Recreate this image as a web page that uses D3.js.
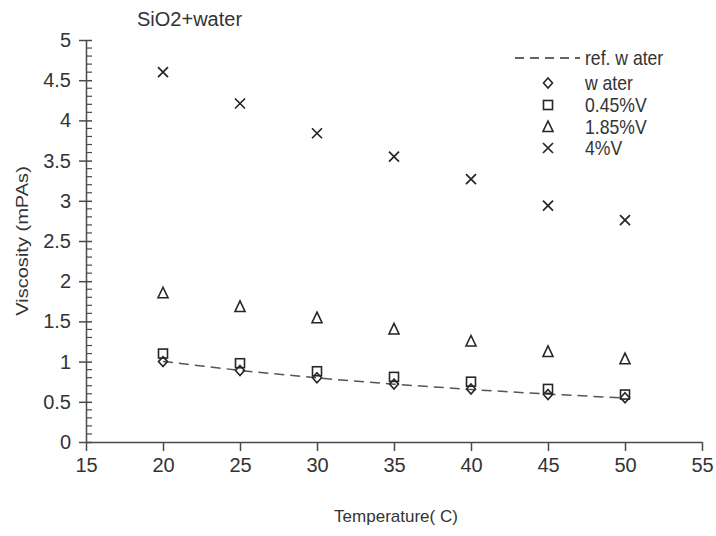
<!DOCTYPE html>
<html>
<head>
<meta charset="utf-8">
<script src="https://cdn.jsdelivr.net/npm/d3@7"></script>
<style>
  html, body { margin: 0; padding: 0; background: #fff; }
  svg { display: block; font-family: "Liberation Sans", Arial, sans-serif; }
</style>
</head>
<body>
<svg id="chart" width="716" height="536"></svg>
<script>
// ---- data ----
const temperatures = [20, 25, 30, 35, 40, 45, 50];
const refWater   = [1.002, 0.890, 0.797, 0.719, 0.653, 0.596, 0.547];
const water      = [1.00, 0.89, 0.80, 0.72, 0.66, 0.59, 0.55];
const v045       = [1.10, 0.98, 0.88, 0.81, 0.75, 0.66, 0.59];
const v185       = [1.85, 1.68, 1.54, 1.40, 1.25, 1.12, 1.03];
const v4         = [4.60, 4.21, 3.84, 3.55, 3.27, 2.94, 2.76];
const xTicks = [15, 20, 25, 30, 35, 40, 45, 50, 55];
const yTicks = [0, 0.5, 1, 1.5, 2, 2.5, 3, 3.5, 4, 4.5, 5];
const seriesNames = ["ref. w ater", "w ater", "0.45%V", "1.85%V", "4%V"];
const titleText = "SiO2+water";
const xLabel = "Temperature( C)";
const yLabel = "Viscosity (mPAs)";

// ---- layout ----
const svg = d3.select("#chart");
const x = d3.scaleLinear().domain([15, 55]).range([86, 702]);
const y = d3.scaleLinear().domain([0, 5]).range([442, 40]);
const axisColor = "#4a4a4a";
const markColor = "#262626";

// title
svg.append("text").attr("x", 137).attr("y", 26)
  .attr("font-size", 20).attr("fill", "#333").text(titleText);

// x axis
const gx = svg.append("g").attr("transform", `translate(0,${y(0)})`)
  .call(d3.axisBottom(x).tickValues(xTicks).tickSize(9).tickSizeOuter(0).tickPadding(7).tickFormat(d3.format("d")));
gx.select(".domain").attr("stroke", axisColor).attr("stroke-width", 1.5);
gx.selectAll(".tick line").attr("stroke", axisColor).attr("stroke-width", 1.5);
gx.selectAll(".tick text").attr("font-size", 20).attr("fill", "#333")
  .attr("font-family", "Liberation Sans, Arial, sans-serif");

// y axis minor ticks
const minor = d3.range(0, 50).map(i => i / 10).filter(v => Math.abs(v * 2 - Math.round(v * 2)) > 1e-6);
svg.append("g").selectAll("line").data(minor).join("line")
  .attr("x1", x(15)).attr("x2", x(15) + 6)
  .attr("y1", d => y(d)).attr("y2", d => y(d))
  .attr("stroke", axisColor).attr("stroke-width", 1.2);

// y axis
const gy = svg.append("g").attr("transform", `translate(${x(15)},0)`)
  .call(d3.axisLeft(y).tickValues(yTicks).tickSize(7).tickSizeOuter(0).tickPadding(8).tickFormat(d => String(d)));
gy.select(".domain").attr("stroke", axisColor).attr("stroke-width", 1.5);
gy.selectAll(".tick line").attr("stroke", axisColor).attr("stroke-width", 1.5).attr("x2", 6).attr("x1", -7);
gy.selectAll(".tick text").attr("font-size", 20).attr("fill", "#333")
  .attr("font-family", "Liberation Sans, Arial, sans-serif").attr("x", -15);

// axis labels
svg.append("text").attr("x", 396).attr("y", 522).attr("text-anchor", "middle")
  .attr("font-size", 17).attr("fill", "#333").text(xLabel);
svg.append("text").attr("text-anchor", "middle")
  .attr("transform", `translate(28,241) rotate(-90) scale(1.18,1)`)
  .attr("font-size", 17).attr("fill", "#333").text(yLabel);

// ref line
const lineGen = d3.line().x((d, i) => x(temperatures[i])).y(d => y(d));
svg.append("path").datum(refWater).attr("d", lineGen)
  .attr("fill", "none").attr("stroke", "#555").attr("stroke-width", 1.5)
  .attr("stroke-dasharray", "10,6");

// marker drawers
function diamond(g, cx, cy) {
  g.append("path").attr("d", `M${cx},${cy-5}L${cx+4.5},${cy}L${cx},${cy+5}L${cx-4.5},${cy}Z`)
    .attr("fill", "none").attr("stroke", markColor).attr("stroke-width", 1.6);
}
function square(g, cx, cy) {
  g.append("rect").attr("x", cx - 4.5).attr("y", cy - 4.5).attr("width", 9).attr("height", 9)
    .attr("fill", "none").attr("stroke", markColor).attr("stroke-width", 1.6);
}
function triangle(g, cx, cy) {
  g.append("path").attr("d", `M${cx},${cy-6}L${cx+5},${cy+4.5}L${cx-5},${cy+4.5}Z`)
    .attr("fill", "none").attr("stroke", markColor).attr("stroke-width", 1.6);
}
function cross(g, cx, cy) {
  g.append("path").attr("d", `M${cx-5},${cy-5}L${cx+5},${cy+5}M${cx+5},${cy-5}L${cx-5},${cy+5}`)
    .attr("fill", "none").attr("stroke", markColor).attr("stroke-width", 1.7);
}

const marks = svg.append("g");
const series = [[water, diamond], [v045, square], [v185, triangle], [v4, cross]];
series.forEach(([vals, fn]) => {
  vals.forEach((v, i) => fn(marks, x(temperatures[i]), y(v)));
});

// legend
const lg = svg.append("g");
lg.append("line").attr("x1", 515).attr("x2", 580).attr("y1", 58).attr("y2", 58)
  .attr("stroke", "#333").attr("stroke-width", 1.5).attr("stroke-dasharray", "9,6");
const legendY = [58, 83, 105, 127, 148];
const legendFns = [null, diamond, square, triangle, cross];
seriesNames.forEach((name, i) => {
  if (legendFns[i]) legendFns[i](lg, 548, legendY[i]);
  lg.append("text").attr("transform", `translate(585,${legendY[i] + 7}) scale(0.88,1)`)
    .attr("font-size", 20).attr("fill", "#333").text(name);
});
</script>
</body>
</html>
